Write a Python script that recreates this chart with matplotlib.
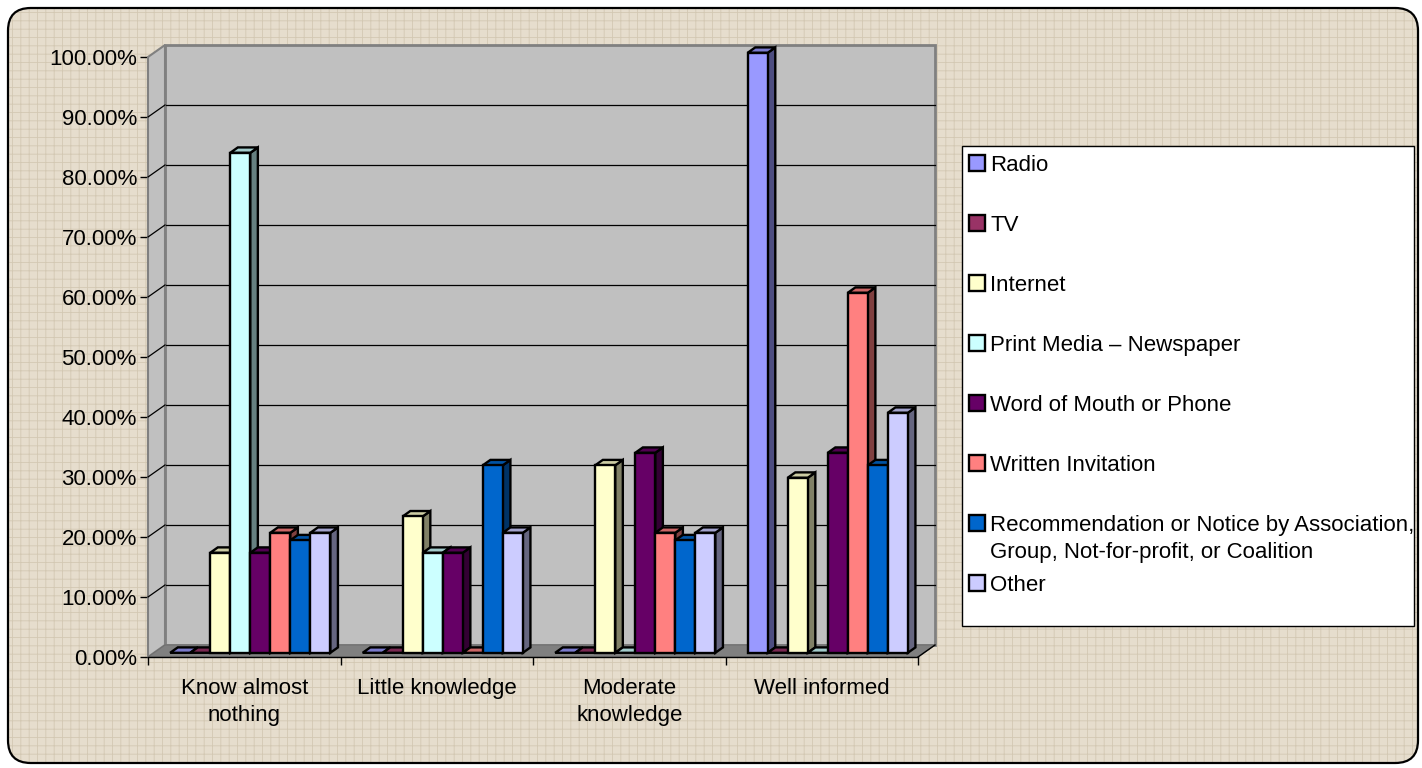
import numpy as np
import matplotlib
matplotlib.use("Agg")
import matplotlib.pyplot as plt
from matplotlib.patches import Polygon, Rectangle, FancyBboxPatch
from matplotlib.colors import to_rgb

plt.rcParams['font.family'] = ['Liberation Sans', 'DejaVu Sans']
plt.rcParams['hatch.linewidth'] = 0.6

# data (percent)
categories = ["Know almost\nnothing", "Little knowledge", "Moderate\nknowledge", "Well informed"]
labels = ["Radio", "TV", "Internet", "Print Media \u2013 Newspaper", "Word of Mouth or Phone",
          "Written Invitation",
          "Recommendation or Notice by Association,\nGroup, Not-for-profit, or Coalition", "Other"]
radio = [0, 0, 0, 100]
tv = [0, 0, 0, 0]
internet = [16.67, 22.73, 31.25, 29.17]
print_media = [83.33, 16.67, 0, 0]
word_of_mouth = [16.67, 16.67, 33.33, 33.33]
written = [20, 0, 20, 60]
recommendation = [18.75, 31.25, 18.75, 31.25]
other = [20, 20, 20, 40]
series = [radio, tv, internet, print_media, word_of_mouth, written, recommendation, other]
colors = ['#9999FF', '#993366', '#FFFFCC', '#CCFFFF', '#660066', '#FF8080', '#0066CC', '#CCCCFF']
yticks = np.arange(0, 101, 10)

W, H = 1422, 768
fig = plt.figure(figsize=(W / 100, H / 100), dpi=100, facecolor='white')

def fx(px):
    return px / W

def fy(py):
    return 1 - py / H

# textured beige background with rounded border
bg = FancyBboxPatch((fx(8), fy(763)), fx(1410), 755 / H, boxstyle="round,pad=0,rounding_size=0.016",
                    transform=fig.transFigure, facecolor='#E6DDCD', edgecolor='#D3C8B3',
                    hatch='++', linewidth=0, zorder=-2, mutation_aspect=W / H)
fig.patches.append(bg)
border = FancyBboxPatch((fx(8), fy(763)), fx(1410), 755 / H, boxstyle="round,pad=0,rounding_size=0.016",
                        transform=fig.transFigure, fill=False, edgecolor='black',
                        linewidth=1.6, zorder=-1, mutation_aspect=W / H)
fig.patches.append(border)

# axes = front plane of the 3d box
ax = fig.add_axes([fx(148), fy(657), fx(770), 600 / H])
ax.set_zorder(2)
ax.set_xlim(-0.5, 3.5)
ax.set_ylim(0, 100)
ax.patch.set_visible(False)
for s in ['left', 'right', 'top']:
    ax.spines[s].set_visible(False)
ax.spines['bottom'].set_color('black')
ax.spines['bottom'].set_linewidth(1)
ax.spines['bottom'].set_zorder(10)

dx, dy = 17 / 192.5, 2.0        # depth of the box
sx, sy = 6 / 192.5, 0.7         # bar front offset
bx, by = 7.6 / 192.5, 0.9       # bar depth
w = 0.104

x0 = -0.5
# back wall
ax.add_patch(Rectangle((x0 + dx, dy), 4, 100, facecolor='#C0C0C0', edgecolor='#808080',
                       linewidth=2, clip_on=False, zorder=1))
for v in yticks[1:-1]:
    ax.plot([x0 + dx, 3.5 + dx], [v + dy, v + dy], color='black', lw=0.9, clip_on=False, zorder=1.5)
# left wall
ax.add_patch(Polygon([(x0, 0), (x0, 100), (x0 + dx, 100 + dy), (x0 + dx, dy)], closed=True,
                     facecolor='#C0C0C0', edgecolor='#808080', linewidth=1.5, clip_on=False, zorder=1.6))
for v in yticks[1:-1]:
    ax.plot([x0, x0 + dx], [v, v + dy], color='black', lw=0.9, clip_on=False, zorder=1.7)
# floor
ax.add_patch(Polygon([(x0, 0), (3.5, 0), (3.5 + dx, dy), (x0 + dx, dy)], closed=True,
                     facecolor='#808080', edgecolor='#707070', linewidth=0.8, clip_on=False, zorder=1.8))

def shade(c, f):
    r, g, b = to_rgb(c)
    return (r * f, g * f, b * f)

x = np.arange(len(categories))
n = len(series)
for i, (vals, col) in enumerate(zip(series, colors)):
    pos = x - n * w / 2 + i * w + w / 2 + sx
    bars = ax.bar(pos, vals, w, bottom=sy, color=col, edgecolor='black', linewidth=1.7,
                  clip_on=False)
    for j, rect in enumerate(bars):
        z = 3 + (j * n + i) * 0.01
        xl = rect.get_x()
        xr = xl + rect.get_width()
        yt = rect.get_y() + rect.get_height()
        yb = rect.get_y()
        side = Polygon([(xr, yb), (xr, yt), (xr + bx, yt + by), (xr + bx, yb + by)], closed=True,
                       facecolor=shade(col, 0.5), edgecolor='black', linewidth=1.7,
                       clip_on=False, zorder=z)
        top = Polygon([(xl, yt), (xr, yt), (xr + bx, yt + by), (xl + bx, yt + by)], closed=True,
                      facecolor=shade(col, 0.8), edgecolor='black', linewidth=1.7,
                      clip_on=False, zorder=z + 0.001)
        ax.add_patch(side)
        ax.add_patch(top)
        rect.set_zorder(z + 0.005)
        if rect.get_height() == 0:
            rect.set_visible(False)

# axes ticks and labels
ax.set_yticks(yticks)
ax.set_yticklabels(['%.2f%%' % v for v in yticks], fontsize=16)
ax.tick_params(axis='y', length=6, width=1, pad=2, color='black')
ax.set_xticks(x)
ax.set_xticklabels(categories, fontsize=16, linespacing=1.38)
ax.set_xticks(np.arange(-0.5, 3.6, 1), minor=True)
ax.tick_params(axis='x', which='major', length=0, pad=15)
ax.tick_params(axis='x', which='minor', length=6, width=1, color='black')
# short floor edge on the right
ax.plot([3.5, 3.5 + dx], [0, dy], color='black', lw=1, clip_on=False, zorder=10)

# legend
fig.patches.append(Rectangle((fx(962), fy(626)), fx(1414 - 962), (626 - 146) / H,
                             transform=fig.transFigure, facecolor='white', edgecolor='black',
                             linewidth=1, zorder=2))
for i, (lab, col) in enumerate(zip(labels, colors)):
    yc = 163 + 60 * i
    fig.patches.append(Rectangle((fx(969), fy(yc + 8)), fx(16), 16 / H, transform=fig.transFigure,
                                 facecolor=col, edgecolor='black', linewidth=1.7, zorder=3))
    for k, line in enumerate(lab.split('\n')):
        fig.text(fx(990), fy(yc + 8 + 27 * k), line, fontsize=16, va='baseline', ha='left', zorder=3)

fig.savefig('out.png', dpi=100)
